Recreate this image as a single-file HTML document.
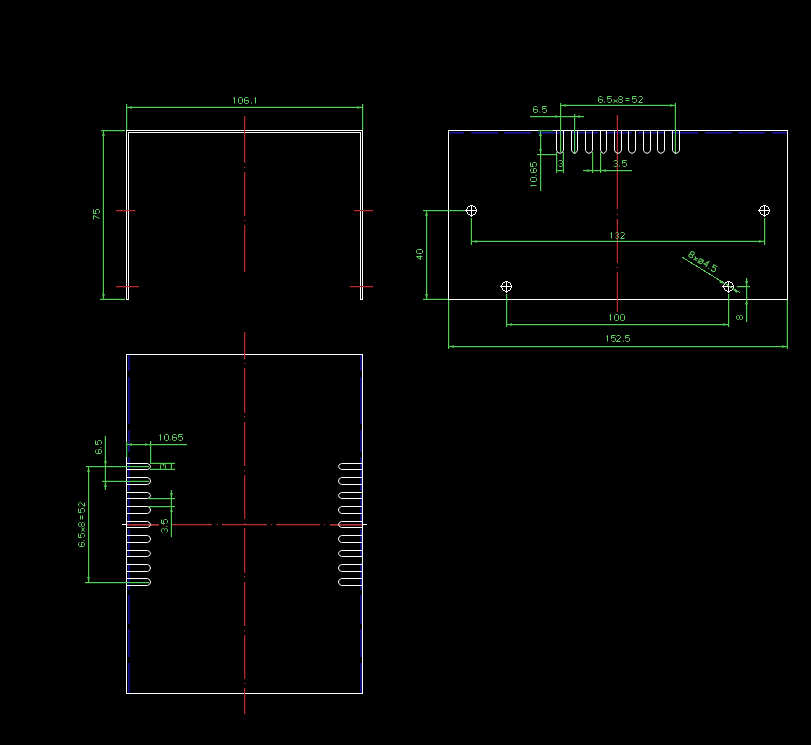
<!DOCTYPE html>
<html><head><meta charset="utf-8"><title>drawing</title>
<style>
html,body{margin:0;padding:0;background:#000;}
body{width:811px;height:745px;overflow:hidden;}
svg{display:block;}
</style></head>
<body>
<svg width="811" height="745" viewBox="0 0 811 745">
<rect x="0" y="0" width="811" height="745" fill="#000"/>
<g shape-rendering="crispEdges">
<rect x="245" y="116" width="1" height="47" fill="#420204"/>
<rect x="245" y="167" width="1" height="1" fill="#420204"/>
<rect x="245" y="172" width="1" height="44" fill="#420204"/>
<rect x="245" y="220" width="1" height="1" fill="#420204"/>
<rect x="245" y="225" width="1" height="47" fill="#420204"/>
<rect x="116" y="211" width="19" height="1" fill="#420204"/>
<rect x="116" y="287" width="23" height="1" fill="#420204"/>
<rect x="354" y="211" width="19" height="1" fill="#420204"/>
<rect x="350" y="287" width="23" height="1" fill="#420204"/>
<rect x="127" y="104" width="1" height="26" fill="#063406"/>
<rect x="363" y="104" width="1" height="26" fill="#063406"/>
<rect x="126" y="106" width="237" height="1" fill="#063406"/>
<rect x="101" y="131" width="24" height="1" fill="#063406"/>
<rect x="100" y="298" width="25" height="1" fill="#063406"/>
<rect x="102" y="130" width="1" height="170" fill="#063406"/>
<rect x="616" y="115" width="1" height="94" fill="#420204"/>
<rect x="616" y="214" width="1" height="1" fill="#420204"/>
<rect x="616" y="219" width="1" height="44" fill="#420204"/>
<rect x="616" y="267" width="1" height="1" fill="#420204"/>
<rect x="616" y="272" width="1" height="40" fill="#420204"/>
<rect x="530" y="117" width="54" height="1" fill="#063406"/>
<rect x="575" y="114" width="1" height="40" fill="#063406"/>
<rect x="561" y="103" width="1" height="49" fill="#063406"/>
<rect x="674" y="103" width="1" height="51" fill="#063406"/>
<rect x="560" y="104" width="116" height="1" fill="#063406"/>
<rect x="541" y="131" width="1" height="60" fill="#063406"/>
<rect x="537" y="155" width="20" height="1" fill="#063406"/>
<rect x="538" y="131" width="15" height="1" fill="#063406"/>
<rect x="557" y="152" width="1" height="21" fill="#063406"/>
<rect x="562" y="152" width="1" height="21" fill="#063406"/>
<rect x="556" y="171" width="8" height="1" fill="#063406"/>
<rect x="593" y="152" width="1" height="21" fill="#063406"/>
<rect x="601" y="152" width="1" height="21" fill="#063406"/>
<rect x="583" y="171" width="49" height="1" fill="#063406"/>
<rect x="423" y="211" width="42" height="1" fill="#063406"/>
<rect x="423" y="298" width="25" height="1" fill="#063406"/>
<rect x="427" y="210" width="1" height="90" fill="#063406"/>
<rect x="470" y="218" width="1" height="27" fill="#063406"/>
<rect x="765" y="218" width="1" height="27" fill="#063406"/>
<rect x="471" y="240" width="294" height="1" fill="#063406"/>
<rect x="507" y="294" width="1" height="33" fill="#063406"/>
<rect x="729" y="294" width="1" height="33" fill="#063406"/>
<rect x="506" y="325" width="223" height="1" fill="#063406"/>
<rect x="449" y="300" width="1" height="49" fill="#063406"/>
<rect x="786" y="300" width="1" height="49" fill="#063406"/>
<rect x="448" y="347" width="340" height="1" fill="#063406"/>
<rect x="747" y="278" width="1" height="44" fill="#063406"/>
<rect x="737" y="287" width="13" height="1" fill="#063406"/>
<rect x="245" y="332" width="1" height="27" fill="#420204"/>
<rect x="245" y="363" width="1" height="1" fill="#420204"/>
<rect x="245" y="368" width="1" height="45" fill="#420204"/>
<rect x="245" y="416" width="1" height="1" fill="#420204"/>
<rect x="245" y="422" width="1" height="44" fill="#420204"/>
<rect x="245" y="470" width="1" height="1" fill="#420204"/>
<rect x="245" y="475" width="1" height="44" fill="#420204"/>
<rect x="245" y="523" width="1" height="1" fill="#420204"/>
<rect x="245" y="528" width="1" height="45" fill="#420204"/>
<rect x="245" y="576" width="1" height="1" fill="#420204"/>
<rect x="245" y="582" width="1" height="44" fill="#420204"/>
<rect x="245" y="630" width="1" height="1" fill="#420204"/>
<rect x="245" y="635" width="1" height="44" fill="#420204"/>
<rect x="245" y="683" width="1" height="1" fill="#420204"/>
<rect x="245" y="688" width="1" height="26" fill="#420204"/>
<rect x="127" y="525" width="32" height="1" fill="#420204"/>
<rect x="163" y="525" width="1" height="1" fill="#420204"/>
<rect x="172" y="525" width="40" height="1" fill="#420204"/>
<rect x="217" y="525" width="1" height="1" fill="#420204"/>
<rect x="222" y="525" width="45" height="1" fill="#420204"/>
<rect x="271" y="525" width="1" height="1" fill="#420204"/>
<rect x="276" y="525" width="44" height="1" fill="#420204"/>
<rect x="324" y="525" width="1" height="1" fill="#420204"/>
<rect x="330" y="525" width="32" height="1" fill="#420204"/>
<rect x="127" y="445" width="60" height="1" fill="#063406"/>
<rect x="127" y="441" width="1" height="16" fill="#063406"/>
<rect x="151" y="441" width="1" height="23" fill="#063406"/>
<rect x="150" y="462" width="25" height="1" fill="#063406"/>
<rect x="150" y="468" width="25" height="1" fill="#063406"/>
<rect x="170" y="463" width="1" height="7" fill="#063406"/>
<rect x="104" y="436" width="1" height="54" fill="#063406"/>
<rect x="86" y="467" width="63" height="1" fill="#063406"/>
<rect x="102" y="480" width="47" height="1" fill="#063406"/>
<rect x="89" y="466" width="1" height="117" fill="#063406"/>
<rect x="85" y="583" width="64" height="1" fill="#063406"/>
<rect x="170" y="490" width="1" height="47" fill="#063406"/>
<rect x="149" y="499" width="26" height="1" fill="#063406"/>
<rect x="149" y="507" width="26" height="1" fill="#063406"/>
<rect x="126" y="130" width="1" height="170" fill="#ffffff"/>
<rect x="126" y="130" width="237" height="1" fill="#ffffff"/>
<rect x="362" y="130" width="1" height="170" fill="#ffffff"/>
<rect x="128" y="132" width="1" height="168" fill="#ffffff"/>
<rect x="128" y="132" width="233" height="1" fill="#ffffff"/>
<rect x="360" y="132" width="1" height="168" fill="#ffffff"/>
<rect x="126" y="299" width="3" height="1" fill="#ffffff"/>
<rect x="360" y="299" width="3" height="1" fill="#ffffff"/>
<rect x="244" y="116" width="1" height="47" fill="#ac3038"/>
<rect x="244" y="167" width="1" height="1" fill="#ac3038"/>
<rect x="244" y="172" width="1" height="44" fill="#ac3038"/>
<rect x="244" y="220" width="1" height="1" fill="#ac3038"/>
<rect x="244" y="225" width="1" height="47" fill="#ac3038"/>
<rect x="116" y="210" width="19" height="1" fill="#ac3038"/>
<rect x="116" y="286" width="23" height="1" fill="#ac3038"/>
<rect x="354" y="210" width="19" height="1" fill="#ac3038"/>
<rect x="350" y="286" width="23" height="1" fill="#ac3038"/>
<rect x="126" y="104" width="1" height="26" fill="#5ac85a"/>
<rect x="362" y="104" width="1" height="26" fill="#5ac85a"/>
<rect x="126" y="107" width="237" height="1" fill="#5ac85a"/>
<rect x="101" y="130" width="24" height="1" fill="#5ac85a"/>
<rect x="100" y="299" width="25" height="1" fill="#5ac85a"/>
<rect x="103" y="130" width="1" height="170" fill="#5ac85a"/>
<rect x="449" y="132" width="14.7" height="1" fill="#1a17a0"/>
<rect x="449" y="133" width="14.7" height="1" fill="#0d0b60"/>
<rect x="471" y="132" width="27" height="1" fill="#1a17a0"/>
<rect x="471" y="133" width="27" height="1" fill="#0d0b60"/>
<rect x="504.4" y="132" width="27" height="1" fill="#1a17a0"/>
<rect x="504.4" y="133" width="27" height="1" fill="#0d0b60"/>
<rect x="537.8" y="132" width="27" height="1" fill="#1a17a0"/>
<rect x="537.8" y="133" width="27" height="1" fill="#0d0b60"/>
<rect x="571.2" y="132" width="27" height="1" fill="#1a17a0"/>
<rect x="571.2" y="133" width="27" height="1" fill="#0d0b60"/>
<rect x="604.6" y="132" width="27" height="1" fill="#1a17a0"/>
<rect x="604.6" y="133" width="27" height="1" fill="#0d0b60"/>
<rect x="638" y="132" width="27" height="1" fill="#1a17a0"/>
<rect x="638" y="133" width="27" height="1" fill="#0d0b60"/>
<rect x="671.4" y="132" width="27" height="1" fill="#1a17a0"/>
<rect x="671.4" y="133" width="27" height="1" fill="#0d0b60"/>
<rect x="704.8" y="132" width="27" height="1" fill="#1a17a0"/>
<rect x="704.8" y="133" width="27" height="1" fill="#0d0b60"/>
<rect x="738.2" y="132" width="27" height="1" fill="#1a17a0"/>
<rect x="738.2" y="133" width="27" height="1" fill="#0d0b60"/>
<rect x="771.6" y="132" width="15.4" height="1" fill="#1a17a0"/>
<rect x="771.6" y="133" width="15.4" height="1" fill="#0d0b60"/>
<rect x="448" y="130" width="1" height="170" fill="#ffffff"/>
<rect x="448" y="130" width="340" height="1" fill="#ffffff"/>
<rect x="787" y="130" width="1" height="170" fill="#ffffff"/>
<rect x="448" y="299" width="340" height="1" fill="#ffffff"/>
<circle cx="471.5" cy="210.5" r="4.8" fill="none" stroke="#ffffff" stroke-width="1"/>
<rect x="465" y="210" width="12" height="1" fill="#ffffff"/>
<rect x="471" y="205" width="1" height="12" fill="#ffffff"/>
<circle cx="764.5" cy="210.5" r="4.8" fill="none" stroke="#ffffff" stroke-width="1"/>
<rect x="758" y="210" width="12" height="1" fill="#ffffff"/>
<rect x="764" y="205" width="1" height="12" fill="#ffffff"/>
<circle cx="506.5" cy="286.5" r="4.8" fill="none" stroke="#ffffff" stroke-width="1"/>
<rect x="500" y="286" width="12" height="1" fill="#ffffff"/>
<rect x="506" y="281" width="1" height="12" fill="#ffffff"/>
<circle cx="728.5" cy="286.5" r="4.8" fill="none" stroke="#ffffff" stroke-width="1"/>
<rect x="722" y="286" width="12" height="1" fill="#ffffff"/>
<rect x="728" y="281" width="1" height="12" fill="#ffffff"/>
<rect x="617" y="115" width="1" height="94" fill="#ac3038"/>
<rect x="617" y="214" width="1" height="1" fill="#ac3038"/>
<rect x="617" y="219" width="1" height="44" fill="#ac3038"/>
<rect x="617" y="267" width="1" height="1" fill="#ac3038"/>
<rect x="617" y="272" width="1" height="40" fill="#ac3038"/>
<rect x="530" y="116" width="54" height="1" fill="#5ac85a"/>
<rect x="574" y="114" width="1" height="40" fill="#5ac85a"/>
<rect x="560" y="103" width="1" height="49" fill="#5ac85a"/>
<rect x="675" y="103" width="1" height="51" fill="#5ac85a"/>
<rect x="560" y="105" width="116" height="1" fill="#5ac85a"/>
<rect x="540" y="131" width="1" height="60" fill="#5ac85a"/>
<rect x="537" y="154" width="20" height="1" fill="#5ac85a"/>
<rect x="538" y="130" width="15" height="1" fill="#5ac85a"/>
<rect x="556" y="152" width="1" height="21" fill="#5ac85a"/>
<rect x="563" y="152" width="1" height="21" fill="#5ac85a"/>
<rect x="556" y="170" width="8" height="1" fill="#5ac85a"/>
<rect x="592" y="152" width="1" height="21" fill="#5ac85a"/>
<rect x="600" y="152" width="1" height="21" fill="#5ac85a"/>
<rect x="583" y="170" width="49" height="1" fill="#5ac85a"/>
<rect x="423" y="210" width="42" height="1" fill="#5ac85a"/>
<rect x="423" y="299" width="25" height="1" fill="#5ac85a"/>
<rect x="426" y="210" width="1" height="90" fill="#5ac85a"/>
<rect x="471" y="218" width="1" height="27" fill="#5ac85a"/>
<rect x="764" y="218" width="1" height="27" fill="#5ac85a"/>
<rect x="471" y="241" width="294" height="1" fill="#5ac85a"/>
<rect x="506" y="294" width="1" height="33" fill="#5ac85a"/>
<rect x="728" y="294" width="1" height="33" fill="#5ac85a"/>
<rect x="506" y="324" width="223" height="1" fill="#5ac85a"/>
<rect x="448" y="300" width="1" height="49" fill="#5ac85a"/>
<rect x="787" y="300" width="1" height="49" fill="#5ac85a"/>
<rect x="448" y="346" width="340" height="1" fill="#5ac85a"/>
<rect x="746" y="278" width="1" height="44" fill="#5ac85a"/>
<rect x="737" y="286" width="13" height="1" fill="#5ac85a"/>
<path d="M682.25,257.3 L739.6,292.5" fill="none" stroke="#5ac85a" stroke-width="1" />
<rect x="128" y="354.6" width="2" height="16.4" fill="#110f7c"/>
<rect x="360" y="354.6" width="2" height="16.4" fill="#110f7c"/>
<rect x="128" y="376.6" width="2" height="47.4" fill="#110f7c"/>
<rect x="360" y="376.6" width="2" height="47.4" fill="#110f7c"/>
<rect x="128" y="429.5" width="2" height="22" fill="#110f7c"/>
<rect x="360" y="429.5" width="2" height="22" fill="#110f7c"/>
<rect x="128" y="456.5" width="2" height="34.2" fill="#110f7c"/>
<rect x="360" y="456.5" width="2" height="34.2" fill="#110f7c"/>
<rect x="128" y="494.8" width="2" height="29.2" fill="#110f7c"/>
<rect x="360" y="494.8" width="2" height="29.2" fill="#110f7c"/>
<rect x="128" y="529" width="2" height="28" fill="#110f7c"/>
<rect x="360" y="529" width="2" height="28" fill="#110f7c"/>
<rect x="128" y="562.5" width="2" height="27.5" fill="#110f7c"/>
<rect x="360" y="562.5" width="2" height="27.5" fill="#110f7c"/>
<rect x="128" y="595.3" width="2" height="28.2" fill="#110f7c"/>
<rect x="360" y="595.3" width="2" height="28.2" fill="#110f7c"/>
<rect x="128" y="629.1" width="2" height="27.9" fill="#110f7c"/>
<rect x="360" y="629.1" width="2" height="27.9" fill="#110f7c"/>
<rect x="128" y="663" width="2" height="30" fill="#110f7c"/>
<rect x="360" y="663" width="2" height="30" fill="#110f7c"/>
<rect x="126" y="354" width="1" height="340" fill="#ffffff"/>
<rect x="126" y="354" width="237" height="1" fill="#ffffff"/>
<rect x="362" y="354" width="1" height="340" fill="#ffffff"/>
<rect x="126" y="693" width="237" height="1" fill="#ffffff"/>
<rect x="122" y="524" width="4" height="1" fill="#ffffff"/>
<rect x="363" y="524" width="4" height="1" fill="#ffffff"/>
<rect x="244" y="332" width="1" height="27" fill="#ac3038"/>
<rect x="244" y="363" width="1" height="1" fill="#ac3038"/>
<rect x="244" y="368" width="1" height="45" fill="#ac3038"/>
<rect x="244" y="416" width="1" height="1" fill="#ac3038"/>
<rect x="244" y="422" width="1" height="44" fill="#ac3038"/>
<rect x="244" y="470" width="1" height="1" fill="#ac3038"/>
<rect x="244" y="475" width="1" height="44" fill="#ac3038"/>
<rect x="244" y="523" width="1" height="1" fill="#ac3038"/>
<rect x="244" y="528" width="1" height="45" fill="#ac3038"/>
<rect x="244" y="576" width="1" height="1" fill="#ac3038"/>
<rect x="244" y="582" width="1" height="44" fill="#ac3038"/>
<rect x="244" y="630" width="1" height="1" fill="#ac3038"/>
<rect x="244" y="635" width="1" height="44" fill="#ac3038"/>
<rect x="244" y="683" width="1" height="1" fill="#ac3038"/>
<rect x="244" y="688" width="1" height="26" fill="#ac3038"/>
<rect x="127" y="524" width="32" height="1" fill="#ac3038"/>
<rect x="163" y="524" width="1" height="1" fill="#ac3038"/>
<rect x="172" y="524" width="40" height="1" fill="#ac3038"/>
<rect x="217" y="524" width="1" height="1" fill="#ac3038"/>
<rect x="222" y="524" width="45" height="1" fill="#ac3038"/>
<rect x="271" y="524" width="1" height="1" fill="#ac3038"/>
<rect x="276" y="524" width="44" height="1" fill="#ac3038"/>
<rect x="324" y="524" width="1" height="1" fill="#ac3038"/>
<rect x="330" y="524" width="32" height="1" fill="#ac3038"/>
<rect x="127" y="525" width="32" height="1" fill="#7e2228"/>
<rect x="330" y="525" width="32" height="1" fill="#7e2228"/>
<rect x="127" y="444" width="60" height="1" fill="#5ac85a"/>
<rect x="126" y="441" width="1" height="16" fill="#5ac85a"/>
<rect x="150" y="441" width="1" height="23" fill="#5ac85a"/>
<rect x="150" y="463" width="25" height="1" fill="#5ac85a"/>
<rect x="150" y="469" width="25" height="1" fill="#5ac85a"/>
<rect x="171" y="463" width="1" height="7" fill="#5ac85a"/>
<rect x="105" y="436" width="1" height="54" fill="#5ac85a"/>
<rect x="86" y="466" width="63" height="1" fill="#5ac85a"/>
<rect x="102" y="481" width="47" height="1" fill="#5ac85a"/>
<rect x="88" y="466" width="1" height="117" fill="#5ac85a"/>
<rect x="85" y="582" width="64" height="1" fill="#5ac85a"/>
<rect x="171" y="490" width="1" height="47" fill="#5ac85a"/>
<rect x="149" y="498" width="26" height="1" fill="#5ac85a"/>
<rect x="149" y="506" width="26" height="1" fill="#5ac85a"/>
</g>
<g>
<polygon points="127.00,107.50 132.00,108.85 132.00,106.15" fill="#5ac85a"/>
<polygon points="362.00,107.50 357.00,106.15 357.00,108.85" fill="#5ac85a"/>
<polygon points="103.50,131.00 102.15,136.00 104.85,136.00" fill="#5ac85a"/>
<polygon points="103.50,299.00 104.85,294.00 102.15,294.00" fill="#5ac85a"/>
<path d="M556.5,130 V150.3 L557.6,152.3 L560.0,153.4 L562.4,152.3 L563.5,150.3 V130" fill="none" stroke="#ffffff" stroke-width="1"/>
<path d="M571.5,130 V150.3 L572.6,152.3 L574.5,153.4 L576.4,152.3 L577.5,150.3 V130" fill="none" stroke="#ffffff" stroke-width="1"/>
<path d="M585.5,130 V150.3 L586.6,152.3 L589.0,153.4 L591.4,152.3 L592.5,150.3 V130" fill="none" stroke="#ffffff" stroke-width="1"/>
<path d="M600.5,130 V150.3 L601.6,152.3 L603.5,153.4 L605.4,152.3 L606.5,150.3 V130" fill="none" stroke="#ffffff" stroke-width="1"/>
<path d="M614.5,130 V150.3 L615.6,152.3 L618.0,153.4 L620.4,152.3 L621.5,150.3 V130" fill="none" stroke="#ffffff" stroke-width="1"/>
<path d="M628.5,130 V150.3 L629.6,152.3 L632.0,153.4 L634.4,152.3 L635.5,150.3 V130" fill="none" stroke="#ffffff" stroke-width="1"/>
<path d="M643.5,130 V150.3 L644.6,152.3 L647.0,153.4 L649.4,152.3 L650.5,150.3 V130" fill="none" stroke="#ffffff" stroke-width="1"/>
<path d="M657.5,130 V150.3 L658.6,152.3 L661.0,153.4 L663.4,152.3 L664.5,150.3 V130" fill="none" stroke="#ffffff" stroke-width="1"/>
<path d="M672.5,130 V150.3 L673.6,152.3 L676.0,153.4 L678.4,152.3 L679.5,150.3 V130" fill="none" stroke="#ffffff" stroke-width="1"/>
<polygon points="560.00,116.50 555.00,115.15 555.00,117.85" fill="#5ac85a"/>
<polygon points="575.00,116.50 580.00,117.85 580.00,115.15" fill="#5ac85a"/>
<polygon points="561.00,105.50 566.00,106.85 566.00,104.15" fill="#5ac85a"/>
<polygon points="675.00,105.50 670.00,104.15 670.00,106.85" fill="#5ac85a"/>
<polygon points="540.50,131.00 539.15,136.00 541.85,136.00" fill="#5ac85a"/>
<polygon points="540.50,154.00 541.85,149.00 539.15,149.00" fill="#5ac85a"/>
<polygon points="592.00,170.50 587.00,169.15 587.00,171.85" fill="#5ac85a"/>
<polygon points="601.00,170.50 606.00,171.85 606.00,169.15" fill="#5ac85a"/>
<polygon points="426.50,211.00 425.15,216.00 427.85,216.00" fill="#5ac85a"/>
<polygon points="426.50,299.00 427.85,294.00 425.15,294.00" fill="#5ac85a"/>
<polygon points="472.00,241.50 477.00,242.85 477.00,240.15" fill="#5ac85a"/>
<polygon points="764.00,241.50 759.00,240.15 759.00,242.85" fill="#5ac85a"/>
<polygon points="507.00,324.50 512.00,325.85 512.00,323.15" fill="#5ac85a"/>
<polygon points="728.00,324.50 723.00,323.15 723.00,325.85" fill="#5ac85a"/>
<polygon points="449.00,346.50 454.00,347.85 454.00,345.15" fill="#5ac85a"/>
<polygon points="787.00,346.50 782.00,345.15 782.00,347.85" fill="#5ac85a"/>
<polygon points="746.50,286.00 747.85,281.00 745.15,281.00" fill="#5ac85a"/>
<polygon points="746.50,299.50 745.15,304.50 747.85,304.50" fill="#5ac85a"/>
<polygon points="724.24,283.88 720.68,280.12 719.27,282.42" fill="#5ac85a"/>
<polygon points="732.76,289.12 736.32,292.88 737.73,290.58" fill="#5ac85a"/>
<path d="M127,463.5 H147.6 L149.6,464.6 L150.6,466.5 L149.6,468.4 L147.6,469.5 H127" fill="none" stroke="#ffffff" stroke-width="1"/>
<path d="M362,463.5 H341.4 L339.4,464.6 L338.4,466.5 L339.4,468.4 L341.4,469.5 H362" fill="none" stroke="#ffffff" stroke-width="1"/>
<path d="M127,477.5 H147.6 L149.6,478.6 L150.6,481.0 L149.6,483.4 L147.6,484.5 H127" fill="none" stroke="#ffffff" stroke-width="1"/>
<path d="M362,477.5 H341.4 L339.4,478.6 L338.4,481.0 L339.4,483.4 L341.4,484.5 H362" fill="none" stroke="#ffffff" stroke-width="1"/>
<path d="M127,492.5 H147.6 L149.6,493.6 L150.6,495.5 L149.6,497.4 L147.6,498.5 H127" fill="none" stroke="#ffffff" stroke-width="1"/>
<path d="M362,492.5 H341.4 L339.4,493.6 L338.4,495.5 L339.4,497.4 L341.4,498.5 H362" fill="none" stroke="#ffffff" stroke-width="1"/>
<path d="M127,506.5 H147.6 L149.6,507.6 L150.6,510.0 L149.6,512.4 L147.6,513.5 H127" fill="none" stroke="#ffffff" stroke-width="1"/>
<path d="M362,506.5 H341.4 L339.4,507.6 L338.4,510.0 L339.4,512.4 L341.4,513.5 H362" fill="none" stroke="#ffffff" stroke-width="1"/>
<path d="M127,521.5 H147.6 L149.6,522.6 L150.6,524.5 L149.6,526.4 L147.6,527.5 H127" fill="none" stroke="#ffffff" stroke-width="1"/>
<path d="M362,521.5 H341.4 L339.4,522.6 L338.4,524.5 L339.4,526.4 L341.4,527.5 H362" fill="none" stroke="#ffffff" stroke-width="1"/>
<path d="M127,535.5 H147.6 L149.6,536.6 L150.6,539.0 L149.6,541.4 L147.6,542.5 H127" fill="none" stroke="#ffffff" stroke-width="1"/>
<path d="M362,535.5 H341.4 L339.4,536.6 L338.4,539.0 L339.4,541.4 L341.4,542.5 H362" fill="none" stroke="#ffffff" stroke-width="1"/>
<path d="M127,550.5 H147.6 L149.6,551.6 L150.6,553.5 L149.6,555.4 L147.6,556.5 H127" fill="none" stroke="#ffffff" stroke-width="1"/>
<path d="M362,550.5 H341.4 L339.4,551.6 L338.4,553.5 L339.4,555.4 L341.4,556.5 H362" fill="none" stroke="#ffffff" stroke-width="1"/>
<path d="M127,564.5 H147.6 L149.6,565.6 L150.6,568.0 L149.6,570.4 L147.6,571.5 H127" fill="none" stroke="#ffffff" stroke-width="1"/>
<path d="M362,564.5 H341.4 L339.4,565.6 L338.4,568.0 L339.4,570.4 L341.4,571.5 H362" fill="none" stroke="#ffffff" stroke-width="1"/>
<path d="M127,578.5 H147.6 L149.6,579.6 L150.6,582.0 L149.6,584.4 L147.6,585.5 H127" fill="none" stroke="#ffffff" stroke-width="1"/>
<path d="M362,578.5 H341.4 L339.4,579.6 L338.4,582.0 L339.4,584.4 L341.4,585.5 H362" fill="none" stroke="#ffffff" stroke-width="1"/>
<polygon points="127.00,444.50 132.00,445.85 132.00,443.15" fill="#5ac85a"/>
<polygon points="150.00,444.50 145.00,443.15 145.00,445.85" fill="#5ac85a"/>
<polygon points="105.50,466.00 106.85,461.00 104.15,461.00" fill="#5ac85a"/>
<polygon points="105.50,482.00 104.15,487.00 106.85,487.00" fill="#5ac85a"/>
<polygon points="88.50,467.00 87.15,472.00 89.85,472.00" fill="#5ac85a"/>
<polygon points="88.50,582.00 89.85,577.00 87.15,577.00" fill="#5ac85a"/>
<polygon points="171.50,498.00 172.85,493.00 170.15,493.00" fill="#5ac85a"/>
<polygon points="171.50,507.00 170.15,512.00 172.85,512.00" fill="#5ac85a"/>
</g>
<g>
<path d="M233.5,98.5 L234.5,97.5 L234.5,103.5 M239.5,97.5 L241.5,97.5 L242.5,98.5 L242.5,102.5 L241.5,103.5 L239.5,103.5 L238.5,102.5 L238.5,98.5 L239.5,97.5 M248.5,98.5 L247.5,97.5 L245.5,97.5 L244.5,98.5 L244.5,102.5 L245.5,103.5 L247.5,103.5 L248.5,102.5 L248.5,100.5 L247.5,100.5 L245.5,100.5 L244.5,100.5 M251.5,102.5 L251.5,103.5 M254.5,98.5 L255.5,97.5 L255.5,103.5" fill="none" stroke="#62d062" stroke-width="1"/>
<path d="M93.5,219.5 L93.5,215.5 L99.5,218.5 M93.5,209.5 L93.5,213.5 L96.5,213.5 L95.5,212.5 L95.5,210.5 L96.5,209.5 L98.5,209.5 L99.5,210.5 L99.5,212.5 L98.5,213.5" fill="none" stroke="#62d062" stroke-width="1"/>
<path d="M537.5,107.5 L536.5,106.5 L534.5,106.5 L533.5,107.5 L533.5,111.5 L534.5,112.5 L536.5,112.5 L537.5,111.5 L537.5,109.5 L536.5,109.5 L534.5,109.5 L533.5,109.5 M539.5,111.5 L539.5,112.5 M546.5,106.5 L542.5,106.5 L542.5,109.5 L543.5,108.5 L545.5,108.5 L546.5,109.5 L546.5,111.5 L545.5,112.5 L543.5,112.5 L542.5,111.5" fill="none" stroke="#62d062" stroke-width="1"/>
<path d="M602.5,97.5 L601.5,96.5 L599.5,96.5 L598.5,97.5 L598.5,101.5 L599.5,102.5 L601.5,102.5 L602.5,101.5 L602.5,99.5 L601.5,99.5 L599.5,99.5 L598.5,99.5 M604.5,101.5 L604.5,102.5 M611.5,96.5 L607.5,96.5 L607.5,99.5 L608.5,98.5 L610.5,98.5 L611.5,99.5 L611.5,101.5 L610.5,102.5 L608.5,102.5 L607.5,101.5 M613.5,99.5 L617.5,102.5 M617.5,99.5 L613.5,102.5 M619.5,96.5 L621.5,96.5 L622.5,97.5 L622.5,98.5 L621.5,99.5 L619.5,99.5 L618.5,98.5 L618.5,97.5 L619.5,96.5 M619.5,99.5 L618.5,100.5 L618.5,101.5 L619.5,102.5 L621.5,102.5 L622.5,101.5 L622.5,100.5 L621.5,99.5 M625.5,98.5 L629.5,98.5 M625.5,100.5 L629.5,100.5 M636.5,96.5 L632.5,96.5 L632.5,99.5 L633.5,98.5 L635.5,98.5 L636.5,99.5 L636.5,101.5 L635.5,102.5 L633.5,102.5 L632.5,101.5 M638.5,97.5 L639.5,96.5 L641.5,96.5 L642.5,97.5 L642.5,98.5 L638.5,102.5 L642.5,102.5" fill="none" stroke="#62d062" stroke-width="1"/>
<path d="M531.5,186.5 L530.5,185.5 L536.5,185.5 M530.5,180.5 L530.5,178.5 L531.5,177.5 L535.5,177.5 L536.5,178.5 L536.5,180.5 L535.5,181.5 L531.5,181.5 L530.5,180.5 M535.5,175.5 L536.5,175.5 M531.5,168.5 L530.5,169.5 L530.5,171.5 L531.5,172.5 L535.5,172.5 L536.5,171.5 L536.5,169.5 L535.5,168.5 L533.5,168.5 L533.5,169.5 L533.5,171.5 L533.5,172.5 M530.5,162.5 L530.5,166.5 L533.5,166.5 L532.5,165.5 L532.5,163.5 L533.5,162.5 L535.5,162.5 L536.5,163.5 L536.5,165.5 L535.5,166.5" fill="none" stroke="#62d062" stroke-width="1"/>
<path d="M558.5,161.5 L559.5,160.5 L561.5,160.5 L562.5,161.5 L562.5,162.5 L561.5,163.5 L560.5,163.5 M561.5,163.5 L562.5,164.5 L562.5,165.5 L561.5,166.5 L559.5,166.5 L558.5,165.5" fill="none" stroke="#62d062" stroke-width="1"/>
<path d="M613.5,161.5 L614.5,160.5 L616.5,160.5 L617.5,161.5 L617.5,162.5 L616.5,163.5 L615.5,163.5 M616.5,163.5 L617.5,164.5 L617.5,165.5 L616.5,166.5 L614.5,166.5 L613.5,165.5 M619.5,165.5 L619.5,166.5 M626.5,160.5 L622.5,160.5 L622.5,163.5 L623.5,162.5 L625.5,162.5 L626.5,163.5 L626.5,165.5 L625.5,166.5 L623.5,166.5 L622.5,165.5" fill="none" stroke="#62d062" stroke-width="1"/>
<path d="M422.5,256.5 L416.5,256.5 L420.5,259.5 L420.5,255.5 M416.5,252.5 L416.5,250.5 L417.5,249.5 L421.5,249.5 L422.5,250.5 L422.5,252.5 L421.5,253.5 L417.5,253.5 L416.5,252.5" fill="none" stroke="#62d062" stroke-width="1"/>
<path d="M610.5,233.5 L611.5,232.5 L611.5,238.5 M615.5,233.5 L616.5,232.5 L617.5,232.5 L618.5,233.5 L618.5,234.5 L617.5,235.5 L616.5,235.5 M617.5,235.5 L618.5,236.5 L618.5,237.5 L617.5,238.5 L616.5,238.5 L615.5,237.5 M620.5,233.5 L621.5,232.5 L623.5,232.5 L624.5,233.5 L624.5,234.5 L620.5,238.5 L624.5,238.5" fill="none" stroke="#62d062" stroke-width="1"/>
<path d="M609.5,315.5 L610.5,314.5 L610.5,320.5 M615.5,314.5 L617.5,314.5 L618.5,315.5 L618.5,319.5 L617.5,320.5 L615.5,320.5 L614.5,319.5 L614.5,315.5 L615.5,314.5 M621.5,314.5 L623.5,314.5 L624.5,315.5 L624.5,319.5 L623.5,320.5 L621.5,320.5 L620.5,319.5 L620.5,315.5 L621.5,314.5" fill="none" stroke="#62d062" stroke-width="1"/>
<path d="M606.5,336.5 L607.5,335.5 L607.5,341.5 M615.5,335.5 L611.5,335.5 L611.5,338.5 L612.5,337.5 L614.5,337.5 L615.5,338.5 L615.5,340.5 L614.5,341.5 L612.5,341.5 L611.5,340.5 M616.5,336.5 L617.5,335.5 L619.5,335.5 L620.5,336.5 L620.5,337.5 L616.5,341.5 L620.5,341.5 M623.5,340.5 L623.5,341.5 M629.5,335.5 L625.5,335.5 L625.5,338.5 L626.5,337.5 L628.5,337.5 L629.5,338.5 L629.5,340.5 L628.5,341.5 L626.5,341.5 L625.5,340.5" fill="none" stroke="#62d062" stroke-width="1"/>
<path d="M736.5,318.5 L736.5,316.5 L737.5,315.5 L738.5,315.5 L739.5,316.5 L739.5,318.5 L738.5,319.5 L737.5,319.5 L736.5,318.5 M739.5,318.5 L740.5,319.5 L741.5,319.5 L742.5,318.5 L742.5,316.5 L741.5,315.5 L740.5,315.5 L739.5,316.5" fill="none" stroke="#62d062" stroke-width="1"/>
<path transform="translate(688.178,256.245) rotate(31.5406)" d="M1.00993,-6.2 L3.0298,-6.2 L4.03974,-5.16667 L4.03974,-4.13333 L3.0298,-3.20333 L1.00993,-3.20333 L0,-4.13333 L0,-5.16667 L1.00993,-6.2 M1.00993,-3.20333 L0,-2.17 L0,-1.03333 L1.00993,0 L3.0298,0 L4.03974,-1.03333 L4.03974,-2.17 L3.0298,-3.20333 M6.0596,-3.51333 L9.49338,0 M9.49338,-3.51333 L6.0596,0 M12.3212,-4.54667 L14.3411,-4.54667 L15.351,-3.51333 L15.351,-1.03333 L14.3411,0 L12.3212,0 L11.3113,-1.03333 L11.3113,-3.51333 L12.3212,-4.54667 M11.0083,0.413333 L15.654,-4.96 M20.4007,0 L20.4007,-6.2 L17.3709,-1.86 L21.4106,-1.86 M23.7334,-0.826667 L23.7334,0 M30.5,-6.2 L26.4603,-6.2 L26.4603,-3.51333 L27.4702,-4.03 L29.4901,-4.03 L30.5,-2.99667 L30.5,-1.03333 L29.4901,0 L27.4702,0 L26.4603,-1.03333" fill="none" stroke="#62d062" stroke-width="1"/>
<path d="M159.5,435.5 L160.5,434.5 L160.5,440.5 M165.5,434.5 L167.5,434.5 L168.5,435.5 L168.5,439.5 L167.5,440.5 L165.5,440.5 L164.5,439.5 L164.5,435.5 L165.5,434.5 M170.5,439.5 L170.5,440.5 M176.5,435.5 L175.5,434.5 L173.5,434.5 L172.5,435.5 L172.5,439.5 L173.5,440.5 L175.5,440.5 L176.5,439.5 L176.5,437.5 L175.5,437.5 L173.5,437.5 L172.5,437.5 M182.5,434.5 L178.5,434.5 L178.5,437.5 L179.5,436.5 L181.5,436.5 L182.5,437.5 L182.5,439.5 L181.5,440.5 L179.5,440.5 L178.5,439.5" fill="none" stroke="#62d062" stroke-width="1"/>
<path d="M161.5,469.5 L160.5,468.5 L160.5,465.5 L161.5,463.5 L162.5,463.5 L163.5,465.5 L163.5,466.5 M163.5,465.5 L163.5,463.5 L164.5,463.5 L165.5,465.5 L165.5,468.5 L164.5,469.5" fill="none" stroke="#62d062" stroke-width="1"/>
<path d="M96.5,449.5 L95.5,450.5 L95.5,452.5 L96.5,453.5 L100.5,453.5 L101.5,452.5 L101.5,450.5 L100.5,449.5 L98.5,449.5 L98.5,450.5 L98.5,452.5 L98.5,453.5 M100.5,447.5 L101.5,447.5 M95.5,440.5 L95.5,444.5 L98.5,444.5 L97.5,443.5 L97.5,441.5 L98.5,440.5 L100.5,440.5 L101.5,441.5 L101.5,443.5 L100.5,444.5" fill="none" stroke="#62d062" stroke-width="1"/>
<path d="M79.5,542.5 L78.5,543.5 L78.5,545.5 L79.5,546.5 L83.5,546.5 L84.5,545.5 L84.5,543.5 L83.5,542.5 L81.5,542.5 L81.5,543.5 L81.5,545.5 L81.5,546.5 M83.5,540.5 L84.5,540.5 M78.5,533.5 L78.5,537.5 L81.5,537.5 L80.5,536.5 L80.5,534.5 L81.5,533.5 L83.5,533.5 L84.5,534.5 L84.5,536.5 L83.5,537.5 M81.5,531.5 L84.5,527.5 M81.5,527.5 L84.5,531.5 M78.5,525.5 L78.5,523.5 L79.5,522.5 L80.5,522.5 L81.5,523.5 L81.5,525.5 L80.5,526.5 L79.5,526.5 L78.5,525.5 M81.5,525.5 L82.5,526.5 L83.5,526.5 L84.5,525.5 L84.5,523.5 L83.5,522.5 L82.5,522.5 L81.5,523.5 M80.5,519.5 L80.5,515.5 M82.5,519.5 L82.5,515.5 M78.5,508.5 L78.5,512.5 L81.5,512.5 L80.5,511.5 L80.5,509.5 L81.5,508.5 L83.5,508.5 L84.5,509.5 L84.5,511.5 L83.5,512.5 M79.5,506.5 L78.5,505.5 L78.5,503.5 L79.5,502.5 L80.5,502.5 L84.5,506.5 L84.5,502.5" fill="none" stroke="#62d062" stroke-width="1"/>
<path d="M162.5,532.5 L161.5,531.5 L161.5,529.5 L162.5,528.5 L163.5,528.5 L164.5,529.5 L164.5,530.5 M164.5,529.5 L165.5,528.5 L166.5,528.5 L167.5,529.5 L167.5,531.5 L166.5,532.5 M166.5,526.5 L167.5,526.5 M161.5,519.5 L161.5,523.5 L164.5,523.5 L163.5,522.5 L163.5,520.5 L164.5,519.5 L166.5,519.5 L167.5,520.5 L167.5,522.5 L166.5,523.5" fill="none" stroke="#62d062" stroke-width="1"/>
</g>
</svg>
</body></html>
